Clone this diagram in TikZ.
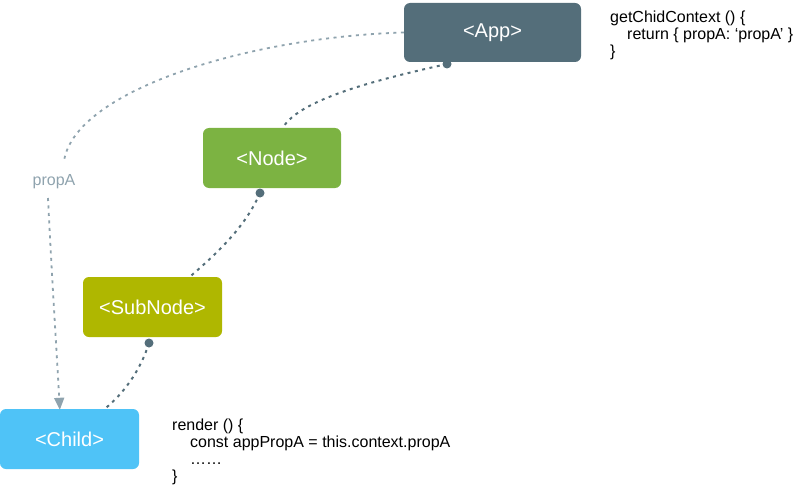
\documentclass[tikz,border=0pt]{standalone}
\usepackage{fontspec}
\setmainfont{Liberation Sans}
\usetikzlibrary{arrows.meta,calc}
\definecolor{appc}{HTML}{546E7A}
\definecolor{nodec}{HTML}{7CB342}
\definecolor{subc}{HTML}{AFB700}
\definecolor{childc}{HTML}{4FC3F7}
\definecolor{propc}{HTML}{8FA3AE}
\tikzset{
  box/.style={rounded corners=6pt, text=white, inner sep=0pt, font=\fontsize{20}{24}\selectfont},
  code/.style={anchor=base west, inner sep=0pt, font=\fontsize{16}{19}\selectfont, text=black},
  tree/.style={draw=appc, line width=2pt, dash pattern=on 3pt off 4.5pt},
  prop/.style={draw=propc, line width=1.8pt, dash pattern=on 3pt off 4.5pt},
  enddot/.style={circle, fill=appc, inner sep=0pt, minimum size=9pt},
}
\begin{document}
\begin{tikzpicture}[x=1pt,y=-1pt]
\useasboundingbox (0,0) rectangle (800,492);
\node[box, fill=appc, minimum width=177pt, minimum height=59pt] (app) at (492.5,32.5) {<App>};
\node[box, fill=nodec, minimum width=138pt, minimum height=60pt] (nd) at (272,158) {<Node>};
\node[box, fill=subc, minimum width=139pt, minimum height=60pt] (sub) at (152.5,307) {<SubNode>};
\node[box, fill=childc, minimum width=139pt, minimum height=60pt] (child) at (69.5,439) {<Child>};

\node[enddot] (d1) at (447,64) {};
\node[enddot] (d2) at (260,193) {};
\node[enddot] (d3) at (149,343) {};

\draw[tree] (d1.center) .. controls (385,78) and (300,98) .. ($(nd.north west)+(80,0)$);
\draw[tree] (d2.center) .. controls (245,228) and (215,255) .. ($(sub.north west)+(107,0)$);
\draw[tree] (d3.center) .. controls (140,372) and (122,395) .. ($(child.north west)+(105,0)$);

\node[inner sep=1pt, text=propc, font=\fontsize{16}{19}\selectfont] (lbl) at (54,182) {propA};
\draw[prop] (app.west) .. controls (250,37) and (75,90) .. (64,161);
\draw[prop, -{Triangle[width=10pt,length=12pt]}, shorten >=-1pt] (48,198) .. controls (52,280) and (56,340) .. ($(child.north west)+(60,0)$);

\node[code] (c1) at (610,23) {getChidContext () \{};
\node[code] (c2) at (627,40) {return \{ propA: ‘propA’ \}};
\node[code] (c3) at (610,57) {\}};

\node[code] (r1) at (172,430) {render () \{};
\node[code] (r2) at (190,447) {const appPropA = this.context.propA};
\node[code] (r3) at (190,464) {……};
\node[code] (r4) at (172,481) {\}};
\end{tikzpicture}
\end{document}
